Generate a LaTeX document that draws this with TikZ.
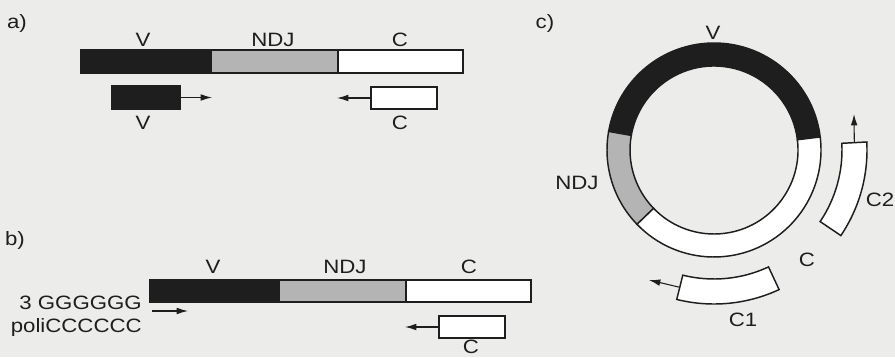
\documentclass[tikz,border=0pt]{standalone}
\usepackage{fontspec}
\setmainfont{Liberation Sans}[FakeStretch=1.15]
\usetikzlibrary{arrows.meta,calc}
\definecolor{bgc}{RGB}{236,236,234}
\definecolor{blk}{RGB}{30,30,30}
\definecolor{gry}{RGB}{180,180,180}
\definecolor{ink}{RGB}{30,30,30}
\begin{document}
\begin{tikzpicture}[x=0.75pt,y=0.75pt,
  seg/.style={draw=ink,line width=1.1pt,inner sep=0pt,minimum height=17pt},
  lbl/.style={inner sep=0pt,font=\fontsize{14.5}{16}\selectfont,text=ink},
  arr/.style={draw=ink,line width=0.8pt,-{Latex[length=8.5pt,width=5pt]}},
  ring/.style={draw=ink,line width=1.1pt}]
\fill[bgc] (0,0) rectangle (895,-357);
\useasboundingbox (0,0) rectangle (895,-357);
% panel a
\node[lbl] (la) at (17,-23) {a)};
\node[seg,fill=blk,minimum width=97.5pt] (aV) at (146,-61.5) {};
\node[seg,fill=gry,minimum width=95.25pt] (aN) at (274.5,-61.5) {};
\node[seg,fill=white,minimum width=93.75pt] (aC) at (400.5,-61.5) {};
\node[lbl] (laV) at (143,-40) {V};
\node[lbl] (laN) at (273,-40) {NDJ};
\node[lbl] (laC) at (400,-40) {C};
\node[seg,fill=blk,minimum width=51pt,minimum height=17pt] (aVs) at (146,-97.5) {};
\node[seg,fill=white,minimum width=49.5pt,minimum height=16.5pt] (aCs) at (404,-98) {};
\coordinate (aVe) at (212,-97.5);
\coordinate (aCe) at (337,-98);
\draw[arr] (aVs.east) -- (aVe);
\draw[arr] (aCs.west) -- (aCe);
\node[lbl] (laVs) at (143,-123) {V};
\node[lbl] (laCs) at (400,-123) {C};
% panel b
\node[lbl] (lb) at (15,-240) {b)};
\node[seg,fill=blk,minimum width=96.75pt,minimum height=16.5pt] (bV) at (214.5,-291) {};
\node[seg,fill=gry,minimum width=95.25pt,minimum height=16.5pt] (bN) at (342.5,-291) {};
\node[seg,fill=white,minimum width=93.75pt,minimum height=16.5pt] (bC) at (468.5,-291) {};
\node[lbl] (lbV) at (213,-267) {V};
\node[lbl] (lbN) at (345,-267) {NDJ};
\node[lbl] (lbC) at (469,-267) {C};
\node[lbl,anchor=east] (lbG) at (142,-303) {3 GGGGGG};
\node[lbl,anchor=east] (lbP) at (142,-327) {poliCCCCCC};
\coordinate (bAs) at (152,-311);
\coordinate (bAe) at (188,-311);
\draw[arr] (bAs) -- (bAe);
\node[seg,fill=white,minimum width=49.5pt,minimum height=16.5pt] (bCs) at (472,-327) {};
\coordinate (bCe) at (405,-327);
\draw[arr] (bCs.west) -- (bCe);
\node[lbl] (lbCs) at (471,-347) {C};
% panel c
\node[lbl] (lc) at (545,-23) {c)};
\coordinate (O) at (714,-150);
\draw[ring,fill=blk] ([shift={(O)}]7:107) arc (7:170:107) -- ([shift={(O)}]170:84) arc (170:7:84) -- cycle;
\draw[ring,fill=gry] ([shift={(O)}]170:107) arc (170:224:107) -- ([shift={(O)}]224:84) arc (224:170:84) -- cycle;
\draw[ring,fill=white] ([shift={(O)}]224:107) arc (224:367:107) -- ([shift={(O)}]367:84) arc (367:224:84) -- cycle;
\node[lbl] (lcV) at (713,-33) {V};
\node[lbl] (lcN) at (577,-183) {NDJ};
\node[lbl] (lcC) at (807,-260) {C};
% C2
\draw[ring,fill=white] ([shift={(O)}]-34:128) arc (-34:3:128) -- ([shift={(O)}]3:153) arc (3:-34:153) -- cycle;
\coordinate (c2s) at ([shift={(O)}]3:140.5);
\coordinate (c2e) at (854,-114);
\draw[arr] (c2s) -- (c2e);
\node[lbl] (lcC2) at (880,-200) {C2};
% C1
\draw[ring,fill=white] ([shift={(O)}]-104:129) arc (-104:-65:129) -- ([shift={(O)}]-65:154) arc (-65:-104:154) -- cycle;
\coordinate (c1s) at ([shift={(O)}]-104:141.5);
\coordinate (c1e) at (649,-280);
\draw[arr] (c1s) -- (c1e);
\node[lbl] (lcC1) at (743,-320) {C1};
\end{tikzpicture}
\end{document}
